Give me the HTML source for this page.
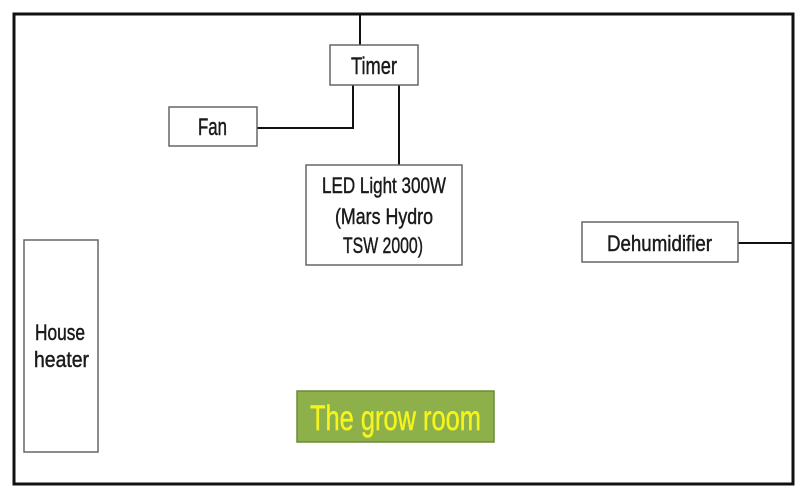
<!DOCTYPE html>
<html>
<head>
<meta charset="utf-8">
<style>
  html,body{margin:0;padding:0;background:#fff;}
  svg{display:block;}
  text{font-family:"Liberation Sans", sans-serif; fill:#1a1a1a; stroke:#1a1a1a; stroke-width:0.45;}
</style>
</head>
<body>
<svg width="811" height="500" viewBox="0 0 811 500" xmlns="http://www.w3.org/2000/svg">
  <rect x="0" y="0" width="811" height="500" fill="#fff"/>
  <!-- outer room -->
  <rect x="14" y="14" width="779" height="470" fill="none" stroke="#111" stroke-width="3"/>

  <!-- connectors -->
  <line x1="360" y1="14" x2="360" y2="45" stroke="#111" stroke-width="2"/>
  <polyline points="257,128 353,128 353,85" fill="none" stroke="#111" stroke-width="2"/>
  <line x1="399" y1="85" x2="399" y2="165" stroke="#111" stroke-width="2"/>
  <line x1="738" y1="243" x2="793" y2="243" stroke="#111" stroke-width="2"/>

  <!-- Timer -->
  <rect x="330" y="45" width="88" height="40" fill="#fff" stroke="#666" stroke-width="1.5"/>
  <text x="351" y="74" font-size="24" textLength="46" lengthAdjust="spacingAndGlyphs">Timer</text>

  <!-- Fan -->
  <rect x="169" y="107" width="88" height="39" fill="#fff" stroke="#666" stroke-width="1.5"/>
  <text x="198" y="135" font-size="24" textLength="29" lengthAdjust="spacingAndGlyphs">Fan</text>

  <!-- LED -->
  <rect x="306" y="165" width="156" height="100" fill="#fff" stroke="#666" stroke-width="1.5"/>
  <text x="322" y="193" font-size="22.5" textLength="124" lengthAdjust="spacingAndGlyphs">LED Light 300W</text>
  <text x="335" y="224" font-size="22.5" textLength="98" lengthAdjust="spacingAndGlyphs">(Mars Hydro</text>
  <text x="343" y="253" font-size="22.5" textLength="80" lengthAdjust="spacingAndGlyphs">TSW 2000)</text>

  <!-- Dehumidifier -->
  <rect x="582" y="222" width="156" height="40" fill="#fff" stroke="#666" stroke-width="1.5"/>
  <text x="607" y="251" font-size="22.5" textLength="105" lengthAdjust="spacingAndGlyphs">Dehumidifier</text>

  <!-- House heater -->
  <rect x="24" y="240" width="74" height="212" fill="#fff" stroke="#666" stroke-width="1.5"/>
  <text x="35" y="340" font-size="22.5" textLength="50" lengthAdjust="spacingAndGlyphs">House</text>
  <text x="34" y="367" font-size="22.5" textLength="55" lengthAdjust="spacingAndGlyphs">heater</text>

  <!-- The grow room -->
  <rect x="297" y="391" width="197" height="51" fill="#8db04a" stroke="#6a8a36" stroke-width="1.5"/>
  <text x="310" y="430" font-size="35" textLength="171" lengthAdjust="spacingAndGlyphs" style="fill:#f5f51c;stroke:#f5f51c;stroke-width:0.5">The grow room</text>
</svg>
</body>
</html>
